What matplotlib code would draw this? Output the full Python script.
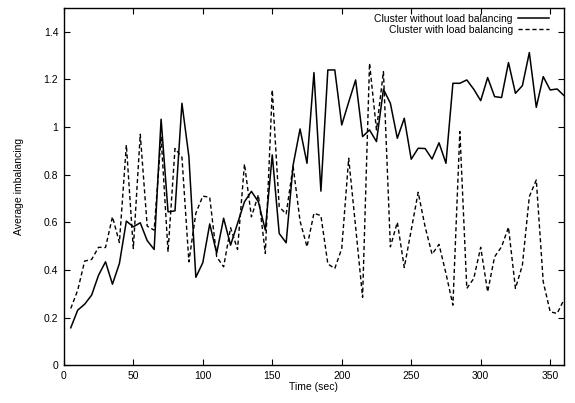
import matplotlib
matplotlib.use("Agg")
import matplotlib.pyplot as plt
import numpy as np
from matplotlib.ticker import FormatStrFormatter

plt.rcParams['font.family'] = ['Liberation Sans', 'DejaVu Sans']

# sample times (sec)
time_sec = np.arange(5, 365, 5)

# average imbalancing, cluster without load balancing
no_lb = [0.157, 0.231, 0.256, 0.294, 0.378, 0.434, 0.340, 0.427, 0.605, 0.581,
         0.598, 0.523, 0.486, 1.033, 0.644, 0.648, 1.100, 0.876, 0.369, 0.430,
         0.593, 0.470, 0.617, 0.504, 0.595, 0.686, 0.730, 0.686, 0.567, 0.883,
         0.553, 0.514, 0.840, 0.992, 0.848, 1.229, 0.731, 1.240, 1.240, 1.009,
         1.105, 1.198, 0.960, 0.988, 0.939, 1.159, 1.100, 0.953, 1.037, 0.865,
         0.911, 0.910, 0.866, 0.934, 0.848, 1.184, 1.184, 1.198, 1.159, 1.111,
         1.208, 1.128, 1.124, 1.271, 1.142, 1.174, 1.313, 1.083, 1.212, 1.156,
         1.160, 1.132]

# average imbalancing, cluster with load balancing
with_lb = [0.238, 0.315, 0.437, 0.444, 0.495, 0.494, 0.623, 0.515, 0.925, 0.490,
           0.970, 0.584, 0.567, 0.960, 0.476, 0.910, 0.873, 0.434, 0.638, 0.710,
           0.705, 0.455, 0.413, 0.577, 0.486, 0.845, 0.623, 0.715, 0.469, 1.156,
           0.665, 0.635, 0.836, 0.605, 0.497, 0.638, 0.628, 0.425, 0.406, 0.490,
           0.869, 0.580, 0.285, 1.268, 0.988, 1.233, 0.497, 0.600, 0.410, 0.567,
           0.726, 0.581, 0.466, 0.507, 0.385, 0.252, 0.981, 0.322, 0.364, 0.495,
           0.308, 0.455, 0.497, 0.579, 0.322, 0.420, 0.708, 0.778, 0.350, 0.224,
           0.217, 0.276]

fig = plt.figure(figsize=(5.75, 4.03), dpi=100)
ax = fig.add_axes([0.111, 0.094, 0.870, 0.886])

ax.plot(time_sec, no_lb, color='black', lw=1.1, label='Cluster without load balancing')
ax.plot(time_sec, with_lb, color='black', lw=1.0, linestyle=(0, (3, 2)),
        label='Cluster with load balancing')

ax.set_xlim(0, 360)
ax.set_ylim(0, 1.5)
ax.set_xticks(np.arange(0, 351, 50))
ax.set_yticks(np.arange(0, 1.41, 0.2))
ax.yaxis.set_major_formatter(FormatStrFormatter('%g'))
ax.tick_params(direction='in', top=True, right=True, length=4, width=0.8,
               labelsize=7.5, pad=4)
for s in ax.spines.values():
    s.set_linewidth(1.0)

ax.set_xlabel('Time (sec)', fontsize=7.5, labelpad=1)
ax.set_ylabel('Average imbalancing', fontsize=7.5, labelpad=14)

ax.legend(loc='upper right', bbox_to_anchor=(0.985, 1.005), frameon=False,
          markerfirst=False, fontsize=7.5, handlelength=3.0, handletextpad=0.5,
          labelspacing=0.1, borderaxespad=0.3)

fig.savefig('out.png', dpi=100)
